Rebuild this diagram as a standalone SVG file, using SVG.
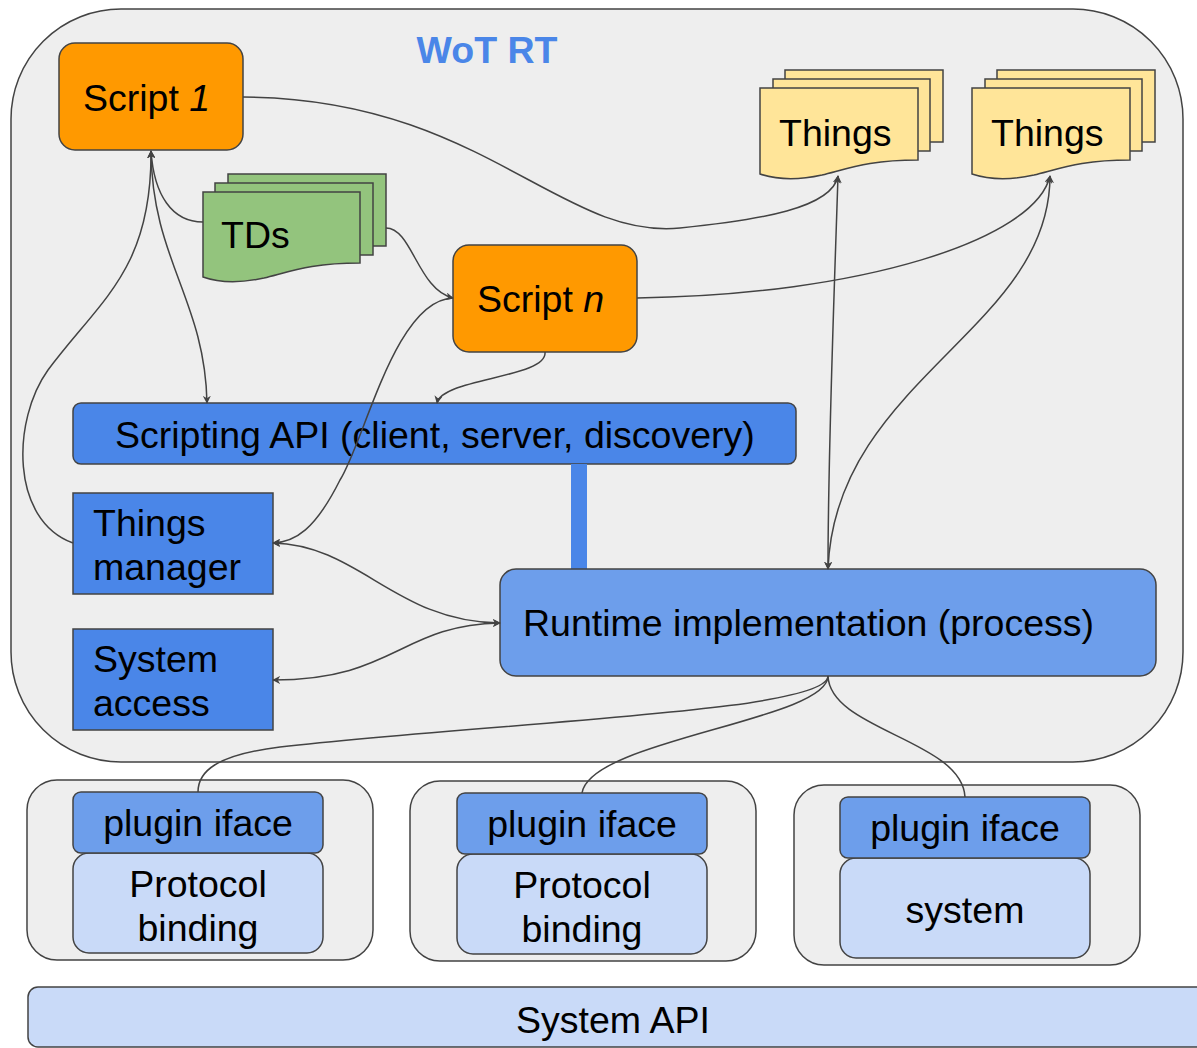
<svg xmlns="http://www.w3.org/2000/svg" width="1197" height="1048" viewBox="0 0 1197 1048">
<style>
text{font-family:"Liberation Sans",Arial,sans-serif;font-size:37.5px;fill:#000}
.c{text-anchor:middle}
.s{stroke:#434343;stroke-width:1.5}
.conn path{fill:none;stroke:#434343;stroke-width:1.5}
</style>
<defs>
<marker id="ah" viewBox="0 0 10 10" refX="9" refY="5" markerWidth="8" markerHeight="8" orient="auto-start-reverse" markerUnits="userSpaceOnUse">
<path d="M0,0 L10,5 L0,10 L3,5 Z" fill="#434343"/>
</marker>
</defs>
<rect width="1197" height="1048" fill="#fff"/>
<g id="wot-rt">
<rect x="11" y="9" width="1172" height="753" rx="110" fill="#eeeeee" class="s"/>
<text x="487" y="63" class="c" style="font-weight:bold;fill:#4a86e8">WoT RT</text>
</g>
<g id="script1">
<rect x="59" y="43" width="184" height="107" rx="16" fill="#ff9900" class="s"/>
<text x="83" y="111">Script <tspan font-style="italic">1</tspan></text>
</g>
<g id="things1">
<rect x="785" y="70" width="158" height="72" fill="#ffe599" class="s"/>
<rect x="773" y="79" width="157" height="72" fill="#ffe599" class="s"/>
<path d="M760,88 H918 V160 C870,160 850,168 822,175 C795,181 775,179 760,174 Z" fill="#ffe599" class="s"/>
<text x="779" y="146">Things</text>
</g>
<g id="things2">
<rect x="997" y="70" width="158" height="72" fill="#ffe599" class="s"/>
<rect x="985" y="79" width="157" height="72" fill="#ffe599" class="s"/>
<path d="M972,88 H1130 V160 C1082,160 1062,168 1034,175 C1007,181 987,179 972,174 Z" fill="#ffe599" class="s"/>
<text x="991" y="146">Things</text>
</g>
<g id="tds">
<rect x="228" y="174" width="158" height="72" fill="#93c47d" class="s"/>
<rect x="215" y="183" width="158" height="72" fill="#93c47d" class="s"/>
<path d="M203,192 H360 V263 C312,263 292,271 264,278 C237,284 217,282 203,277 Z" fill="#93c47d" class="s"/>
<text x="221" y="248">TDs</text>
</g>
<g id="scriptn">
<rect x="453" y="245" width="184" height="107" rx="16" fill="#ff9900" class="s"/>
<text x="477" y="312">Script <tspan font-style="italic">n</tspan></text>
</g>
<g id="scripting-api">
<rect x="73" y="403" width="723" height="61" rx="8" fill="#4a86e8" class="s"/>
<text x="115" y="448">Scripting API (client, server, discovery)</text>
</g>
<g id="api-bar">
<rect x="571" y="464" width="16" height="106" fill="#4a86e8"/>
</g>
<g id="things-manager">
<rect x="73" y="493" width="200" height="101" fill="#4a86e8" class="s"/>
<text x="93" y="536">Things</text>
<text x="93" y="580">manager</text>
</g>
<g id="system-access">
<rect x="73" y="629" width="200" height="101" fill="#4a86e8" class="s"/>
<text x="93" y="672">System</text>
<text x="93" y="716">access</text>
</g>
<g id="runtime">
<rect x="500" y="569" width="656" height="107" rx="16" fill="#6d9eeb" class="s"/>
<text x="523" y="636">Runtime implementation (process)</text>
</g>
<g id="plugin1">
<rect x="27" y="780" width="346" height="180" rx="30" fill="#eeeeee" class="s"/>
<rect x="73" y="853" width="250" height="100" rx="16" fill="#c9daf8" class="s"/>
<rect x="73" y="792" width="250" height="61" rx="8" fill="#6d9eeb" class="s"/>
<text x="198" y="836" class="c">plugin iface</text>
<text x="198" y="897" class="c">Protocol</text>
<text x="198" y="941" class="c">binding</text>
</g>
<g id="plugin2">
<rect x="410" y="781" width="346" height="180" rx="30" fill="#eeeeee" class="s"/>
<rect x="457" y="854" width="250" height="100" rx="16" fill="#c9daf8" class="s"/>
<rect x="457" y="793" width="250" height="61" rx="8" fill="#6d9eeb" class="s"/>
<text x="582" y="837" class="c">plugin iface</text>
<text x="582" y="898" class="c">Protocol</text>
<text x="582" y="942" class="c">binding</text>
</g>
<g id="plugin3">
<rect x="794" y="785" width="346" height="180" rx="30" fill="#eeeeee" class="s"/>
<rect x="840" y="858" width="250" height="100" rx="16" fill="#c9daf8" class="s"/>
<rect x="840" y="797" width="250" height="61" rx="8" fill="#6d9eeb" class="s"/>
<text x="965" y="841" class="c">plugin iface</text>
<text x="965" y="923" class="c">system</text>
</g>
<g id="system-api">
<rect x="28" y="987" width="1180" height="60" rx="10" fill="#c9daf8" class="s"/>
<text x="613" y="1033" class="c">System API</text>
</g>
<g class="conn" id="connectors">
<path d="M243,97 C480,98 560,240 680,228 C760,220 832,208 838,176" marker-end="url(#ah)"/>
<path d="M203,222 C172,222 154,195 151,151" marker-end="url(#ah)"/>
<path d="M386,228 C412,228 418,290 453,298" marker-end="url(#ah)"/>
<path d="M637,298 C860,295 1035,240 1050,176" marker-end="url(#ah)"/>
<path d="M545,352 C548,378 442,378 437,403" marker-end="url(#ah)"/>
<path d="M151,151 C152,260 205,300 207,403" marker-start="url(#ah)" marker-end="url(#ah)"/>
<path d="M73,543 C10,520 12,420 48,370 C100,300 152,270 151,151" marker-end="url(#ah)"/>
<path d="M453,298 C395,300 365,440 340,480 C315,530 295,542 273,543" marker-end="url(#ah)"/>
<path d="M273,543 C360,545 395,622 500,623" marker-start="url(#ah)" marker-end="url(#ah)"/>
<path d="M273,680 C395,680 400,625 500,623" marker-start="url(#ah)" marker-end="url(#ah)"/>
<path d="M838,176 C834,300 828,450 828,569" marker-start="url(#ah)" marker-end="url(#ah)"/>
<path d="M1050,176 C1050,330 835,380 828,569" marker-start="url(#ah)" marker-end="url(#ah)"/>
<path d="M828,676 C828,712 500,722 280,747 C215,755 198,772 198,792"/>
<path d="M828,676 C828,720 590,740 582,793"/>
<path d="M828,676 C830,730 962,740 965,797"/>
</g>
</svg>
